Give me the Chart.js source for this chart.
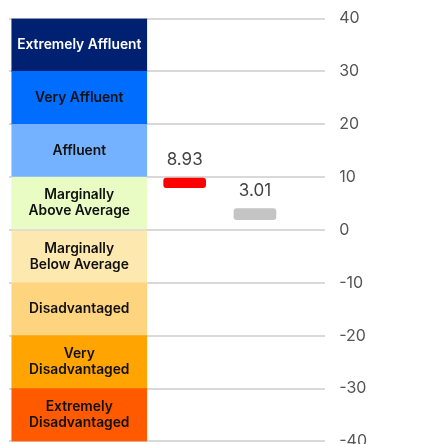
<!DOCTYPE html>
<html>
<head>
<meta charset="utf-8">
<script src="https://cdn.jsdelivr.net/npm/chart.js@4/dist/chart.umd.min.js"></script>
<style>
  html, body { margin: 0; padding: 0; background: #fff; overflow: hidden; }
  canvas { display: block; margin-top: -5px; }
</style>
</head>
<body>
<canvas id="chart" width="430" height="470"></canvas>
<script>
// Bands (advantage / disadvantage scale)
const bandLabels = [
  'Extremely Affluent', 'Very Affluent', 'Affluent', 'Marginally\nAbove Average',
  'Marginally\nBelow Average', 'Disadvantaged', 'Very\nDisadvantaged', 'Extremely\nDisadvantaged'
];
const bandFrom = [30, 20, 10, 0, -10, -20, -30, -40];
const bandTo = [40, 30, 20, 10, 0, -10, -20, -30];
const bandColours = ['#002171', '#006dff', '#74b1ff', '#e8fcc3', '#fde9b0', '#ffd47f', '#ffa400', '#ff5a00'];
const bandTextColours = ['#ffffff', '#111111', '#111111', '#111111', '#111111', '#111111', '#111111', '#111111'];

// Scores
const scoreNames = ['Score A', 'Score B'];
const scoreValues = [8.93, 3.01];
const scoreColours = ['#ff0000', '#c4c4c4'];
const scoreHalf = [0.9, 1.05]; // half marker height, in axis units

const yTicks = [40, 30, 20, 10, 0, -10, -20, -30, -40];

const FONT = 'Inter, "Open Sans", sans-serif';

const bandData = bandFrom.map((from, i) => ({ x: 0, y: [from, bandTo[i]] }));

const scoreSets = scoreValues.map((v, i) => ({
  label: scoreNames[i],
  data: [{ x: 1.5 + i, y: [v - scoreHalf[i], v + scoreHalf[i]] }],
  backgroundColor: scoreColours[i],
  barThickness: 42,
  borderRadius: 3,
  borderSkipped: false
}));

const labelsPlugin = {
  id: 'labels',
  afterDatasetsDraw(chart) {
    const ctx = chart.ctx;
    ctx.save();
    ctx.textAlign = 'center';
    ctx.textBaseline = 'middle';

    // band names
    chart.getDatasetMeta(0).data.forEach((bar, i) => {
      const lines = bandLabels[i].split('\n');
      const mid = (bar.y + bar.base) / 2;
      ctx.font = '600 13.8px ' + FONT;
      ctx.fillStyle = bandTextColours[i];
      lines.forEach((line, j) => {
        ctx.fillText(line, bar.x, mid + (j - (lines.length - 1) / 2) * 16);
      });
    });

    // score values
    scoreValues.forEach((v, i) => {
      const bar = chart.getDatasetMeta(i + 1).data[0];
      ctx.font = '400 17px ' + FONT;
      ctx.fillStyle = '#444444';
      ctx.fillText(v.toFixed(2), bar.x, Math.min(bar.y, bar.base) - 18);
    });
    ctx.restore();
  }
};

new Chart(document.getElementById('chart'), {
  type: 'bar',
  data: {
    datasets: [{
      label: 'Bands',
      data: bandData,
      backgroundColor: bandColours,
      barThickness: 135,
      borderWidth: 0
    }].concat(scoreSets)
  },
  options: {
    responsive: false,
    animation: false,
    grouped: false,
    layout: { padding: { left: 9, top: 14, bottom: 6, right: 49 } },
    plugins: { legend: { display: false }, tooltip: { enabled: false } },
    scales: {
      x: {
        type: 'linear',
        min: -1,
        max: 3.5,
        offset: false,
        display: false
      },
      y: {
        position: 'right',
        min: -40,
        max: 40,
        afterBuildTicks: (axis) => { axis.ticks = yTicks.map((v) => ({ value: v })); },
        border: { display: false },
        grid: { color: '#d9d9d9', lineWidth: 2, drawTicks: false },
        ticks: {
          padding: 14,
          color: '#555555',
          font: { family: FONT, size: 16 }
        }
      }
    }
  },
  plugins: [labelsPlugin]
});
</script>
</body>
</html>
